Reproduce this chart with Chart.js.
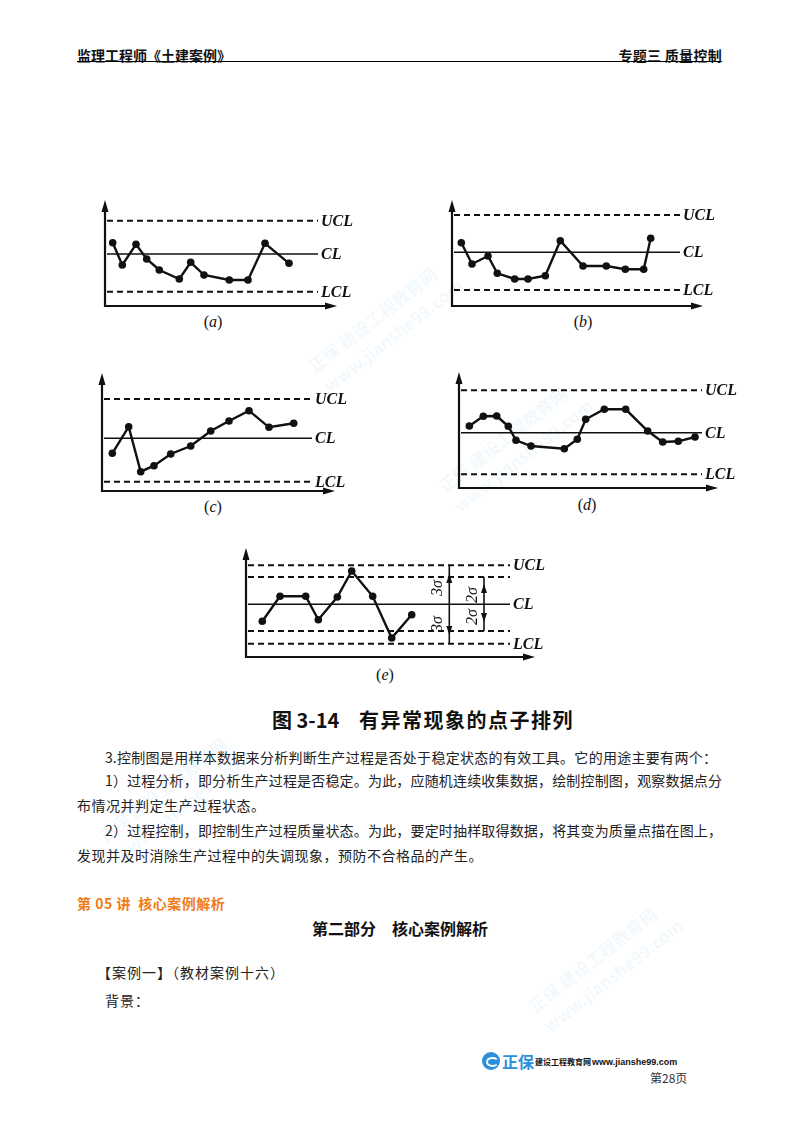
<!DOCTYPE html>
<html>
<head>
<meta charset="utf-8">
<script src="https://cdn.jsdelivr.net/npm/chart.js@4.4.0/dist/chart.umd.min.js"></script>
<style>
body { margin: 0; background: #fff; }
#page { position: relative; width: 800px; height: 1132px; overflow: hidden; font-family: "Noto Sans CJK SC", sans-serif; color: #111; }
.abs { position: absolute; white-space: nowrap; }
#page canvas { position: absolute; }
.ln { position: absolute; font-size: 14px; line-height: 20px; height: 20px; letter-spacing: 0.5px; color: #222; white-space: nowrap; }
.just { text-align: justify; text-align-last: justify; letter-spacing: 0; }
.cap { position: absolute; font: 16px "Liberation Serif", serif; width: 40px; text-align: center; line-height: 18px; }
.wm { position: absolute; color: rgba(110, 185, 235, 0.09); font: bold 17px "Noto Sans CJK SC"; transform: rotate(-38deg); white-space: nowrap; }
</style>
</head>
<body>
<div id="page">
  <div class="abs" style="left:77px;top:45px;font:bold 14px 'Noto Sans CJK SC';line-height:20px">监理工程师《土建案例》</div>
  <div class="abs" style="right:78px;top:45px;font:bold 14px 'Noto Sans CJK SC';line-height:20px;letter-spacing:0.3px">专题三 质量控制</div>
  <div class="abs" style="left:77px;top:61px;width:645px;height:0;border-top:1.8px solid #000"></div>

  <div class="cap" style="left:193px;top:313px">(<i>a</i>)</div>
  <div class="cap" style="left:563px;top:313px">(<i>b</i>)</div>
  <div class="cap" style="left:193px;top:498px">(<i>c</i>)</div>
  <div class="cap" style="left:567px;top:496px">(<i>d</i>)</div>
  <div class="cap" style="left:365px;top:666px">(<i>e</i>)</div>

  <div class="abs" style="left:272px;top:706px;font:bold 20px 'Noto Sans CJK SC';line-height:28px">图 3-14</div>
  <div class="abs" style="left:359px;top:706px;font:bold 20px 'Noto Sans CJK SC';line-height:28px;letter-spacing:1.5px">有异常现象的点子排列</div>

  <div class="ln just" style="left:105px;top:747px;width:612px">3.控制图是用样本数据来分析判断生产过程是否处于稳定状态的有效工具。它的用途主要有两个：</div>
  <div class="ln just" style="left:105px;top:770px;width:617px">1）过程分析，即分析生产过程是否稳定。为此，应随机连续收集数据，绘制控制图，观察数据点分</div>
  <div class="ln" style="left:77px;top:795px">布情况并判定生产过程状态。</div>
  <div class="ln just" style="left:105px;top:820px;width:617px">2）过程控制，即控制生产过程质量状态。为此，要定时抽样取得数据，将其变为质量点描在图上，</div>
  <div class="ln" style="left:77px;top:845px">发现并及时消除生产过程中的失调现象，预防不合格品的产生。</div>

  <div class="abs" style="left:77px;top:893px;font:bold 14px 'Noto Sans CJK SC';line-height:20px;color:#f07c16;letter-spacing:0.5px">第 05 讲&nbsp; 核心案例解析</div>
  <div class="abs" style="left:0;width:800px;text-align:center;top:917px;font:bold 16px 'Noto Sans CJK SC';line-height:22px">第二部分　核心案例解析</div>
  <div class="ln" style="left:97px;top:962px;letter-spacing:1px">【案例一】（教材案例十六）</div>
  <div class="ln" style="left:105px;top:990px;letter-spacing:1px">背景：</div>

  <div class="abs" style="left:482px;top:1052px;width:18px;height:18px;border-radius:50%;background:#2b8fdc"></div>
  <div class="abs" style="left:486px;top:1057px;width:9px;height:6px;border:2px solid #fff;border-right-color:transparent;border-radius:50%"></div>
  <div class="abs" style="left:502px;top:1050px;font:bold 16px 'Noto Sans CJK SC';line-height:22px;color:#2b8fdc">正保</div>
  <div class="abs" style="left:535px;top:1055px;font:bold 8px 'Noto Sans CJK SC';line-height:14px">建设工程教育网</div>
  <div class="abs" style="left:592px;top:1055px;font:bold 9px 'Liberation Sans';line-height:14px">www.jianshe99.com</div>
  <div class="abs" style="left:650px;top:1070px;font:12px 'Noto Sans CJK SC';line-height:16px;color:#333">第28页</div>

  <div class="wm" style="left:300px;top:300px">正保 建设工程教育网<br>www.jianshe99.com</div>
  <div class="wm" style="left:430px;top:420px">正保 建设工程教育网<br>www.jianshe99.com</div>
  <div class="wm" style="left:90px;top:770px">正保 建设工程教育网<br>www.jianshe99.com</div>
  <div class="wm" style="left:520px;top:940px">正保 建设工程教育网<br>www.jianshe99.com</div>
</div>

<script>
// values (units: px from the axis origin)
const a_x = [7.7, 17.3, 31, 41.7, 54.3, 74.3, 85.7, 99, 124.3, 143, 160, 184];
const a_y = [63.3, 41, 61.7, 47, 36, 27, 43.7, 31, 26, 26, 62.7, 42.7];
const a_limits = [85.3, 52, 14.3];

const b_x = [9.3, 20, 36, 45.3, 62.7, 76, 93.3, 108.3, 131, 154.3, 173.3, 191.7, 198.7];
const b_y = [63.3, 42, 50, 32.7, 27, 27, 30.3, 65.3, 40, 40, 36.7, 36.7, 67.7];
const b_limits = [91, 53.7, 16];

const c_x = [10.3, 26.7, 38.7, 52, 68.7, 88.7, 108.7, 127, 147, 167, 191.7];
const c_y = [37.7, 64.3, 19.3, 25.3, 37, 45, 60, 70, 80.3, 63.7, 67.7];
const c_limits = [92, 52.7, 9.3];

const d_x = [10.3, 24.3, 37.7, 49.3, 57, 72, 105.3, 118.3, 126.7, 145.3, 166.7, 188.7, 203.7, 219.3, 236];
const d_y = [62, 71.7, 72, 61.7, 47.7, 42, 39.3, 48.7, 68.7, 78.7, 78.7, 57, 46, 46.7, 51];
const d_limits = [97.7, 55.3, 13.7];

const e_x = [16.3, 34, 59.7, 72.3, 91.3, 105.7, 126.7, 145.7, 165.7];
const e_y = [35.7, 60.7, 60.7, 37.3, 60, 86, 60.7, 19, 42.3];
const e_limits = [91.7, 80, 52.7, 26, 13.3];

const limitNames = ['UCL', 'CL', 'LCL'];
const limitNamesE = ['UCL', '', 'CL', '', 'LCL'];

const panels = [
  { ox: 105, oy: 306, top: 200, tip: 337, end: 213, xs: a_x, ys: a_y, limits: a_limits, dashed: [1, 0, 1], names: limitNames },
  { ox: 452, oy: 306, top: 200, tip: 703, end: 228, xs: b_x, ys: b_y, limits: b_limits, dashed: [1, 0, 1], names: limitNames },
  { ox: 102, oy: 491, top: 373, tip: 335, end: 210, xs: c_x, ys: c_y, limits: c_limits, dashed: [1, 0, 1], names: limitNames },
  { ox: 459, oy: 488, top: 372, tip: 718, end: 243, xs: d_x, ys: d_y, limits: d_limits, dashed: [1, 0, 1], names: limitNames },
  { ox: 246, oy: 657, top: 548, tip: 535, end: 264, xs: e_x, ys: e_y, limits: e_limits, dashed: [1, 1, 0, 1, 1], names: limitNamesE,
    dims: [
      { x: 203.3, y1: 91.7, y2: 13.3, up: 83, down: 22, text: '3σ', tx: 192, ty: [69, 33] },
      { x: 238, y1: 80, y2: 26, up: 73, down: 35, text: '2σ', tx: 227, ty: [62, 40] }
    ] }
];

function triangle(ctx, pts) {
  ctx.beginPath();
  ctx.moveTo(pts[0][0], pts[0][1]);
  ctx.lineTo(pts[1][0], pts[1][1]);
  ctx.lineTo(pts[2][0], pts[2][1]);
  ctx.closePath();
  ctx.fill();
}

function controlPlugin(p) {
  return {
    id: 'control',
    beforeDatasetsDraw(chart) {
      const { ctx, chartArea: ca, scales: { x, y } } = chart;
      ctx.save();
      ctx.strokeStyle = '#111';
      ctx.fillStyle = '#111';
      // control limit lines
      p.limits.forEach((v, i) => {
        const py = y.getPixelForValue(v);
        ctx.beginPath();
        ctx.setLineDash(p.dashed[i] ? [6, 4] : []);
        ctx.lineWidth = p.dashed[i] ? 1.9 : 1.6;
        ctx.moveTo(ca.left + 2, py);
        ctx.lineTo(x.getPixelForValue(p.end), py);
        ctx.stroke();
      });
      ctx.setLineDash([]);
      // axes with arrows
      ctx.lineWidth = 2.2;
      ctx.beginPath();
      ctx.moveTo(ca.left, ca.bottom + 1);
      ctx.lineTo(ca.left, ca.top + 8);
      ctx.moveTo(ca.left - 1, ca.bottom);
      ctx.lineTo(ca.right - 8, ca.bottom);
      ctx.stroke();
      triangle(ctx, [[ca.left, ca.top], [ca.left - 3.5, ca.top + 12], [ca.left + 3.5, ca.top + 12]]);
      triangle(ctx, [[ca.right, ca.bottom], [ca.right - 12, ca.bottom - 3.5], [ca.right - 12, ca.bottom + 3.5]]);
      // sigma dimension arrows
      (p.dims || []).forEach(d => {
        const px = x.getPixelForValue(d.x);
        ctx.lineWidth = 1.6;
        ctx.beginPath();
        ctx.moveTo(px, y.getPixelForValue(d.y1));
        ctx.lineTo(px, y.getPixelForValue(d.y2));
        ctx.stroke();
        const u = y.getPixelForValue(d.up), dn = y.getPixelForValue(d.down);
        triangle(ctx, [[px, u], [px - 3, u + 9], [px + 3, u + 9]]);
        triangle(ctx, [[px, dn], [px - 3, dn - 9], [px + 3, dn - 9]]);
        ctx.font = 'italic 16px "Liberation Serif"';
        ctx.textAlign = 'center';
        ctx.textBaseline = 'middle';
        d.ty.forEach(t => {
          ctx.save();
          ctx.translate(x.getPixelForValue(d.tx), y.getPixelForValue(t));
          ctx.rotate(-Math.PI / 2);
          ctx.fillText(d.text, 0, 0);
          ctx.restore();
        });
      });
      // limit names
      ctx.font = 'italic bold 16px "Liberation Serif"';
      ctx.textAlign = 'left';
      ctx.textBaseline = 'middle';
      p.limits.forEach((v, i) => {
        if (p.names[i]) ctx.fillText(p.names[i], x.getPixelForValue(p.end) + 3, y.getPixelForValue(v) + 1);
      });
      ctx.restore();
    }
  };
}

const page = document.getElementById('page');
panels.forEach(p => {
  const W = p.tip - p.ox, H = p.oy - p.top;
  const padL = 12, padT = 8, padR = 48, padB = 8;
  const cv = document.createElement('canvas');
  cv.width = W + padL + padR;
  cv.height = H + padT + padB;
  cv.style.left = (p.ox - padL) + 'px';
  cv.style.top = (p.top - padT) + 'px';
  page.appendChild(cv);
  new Chart(cv, {
    type: 'line',
    data: {
      datasets: [{
        data: p.xs.map((v, i) => ({ x: v, y: p.ys[i] })),
        borderColor: '#111',
        borderWidth: 2.4,
        pointRadius: 3.8,
        pointBackgroundColor: '#111',
        pointBorderWidth: 0,
        tension: 0,
        clip: false
      }]
    },
    options: {
      responsive: false,
      animation: false,
      events: [],
      layout: { padding: { left: padL, top: padT, right: padR, bottom: padB } },
      scales: {
        x: { type: 'linear', min: 0, max: W, display: false },
        y: { type: 'linear', min: 0, max: H, display: false }
      },
      plugins: { legend: { display: false }, tooltip: { enabled: false } }
    },
    plugins: [controlPlugin(p)]
  });
});
</script>
</body>
</html>
